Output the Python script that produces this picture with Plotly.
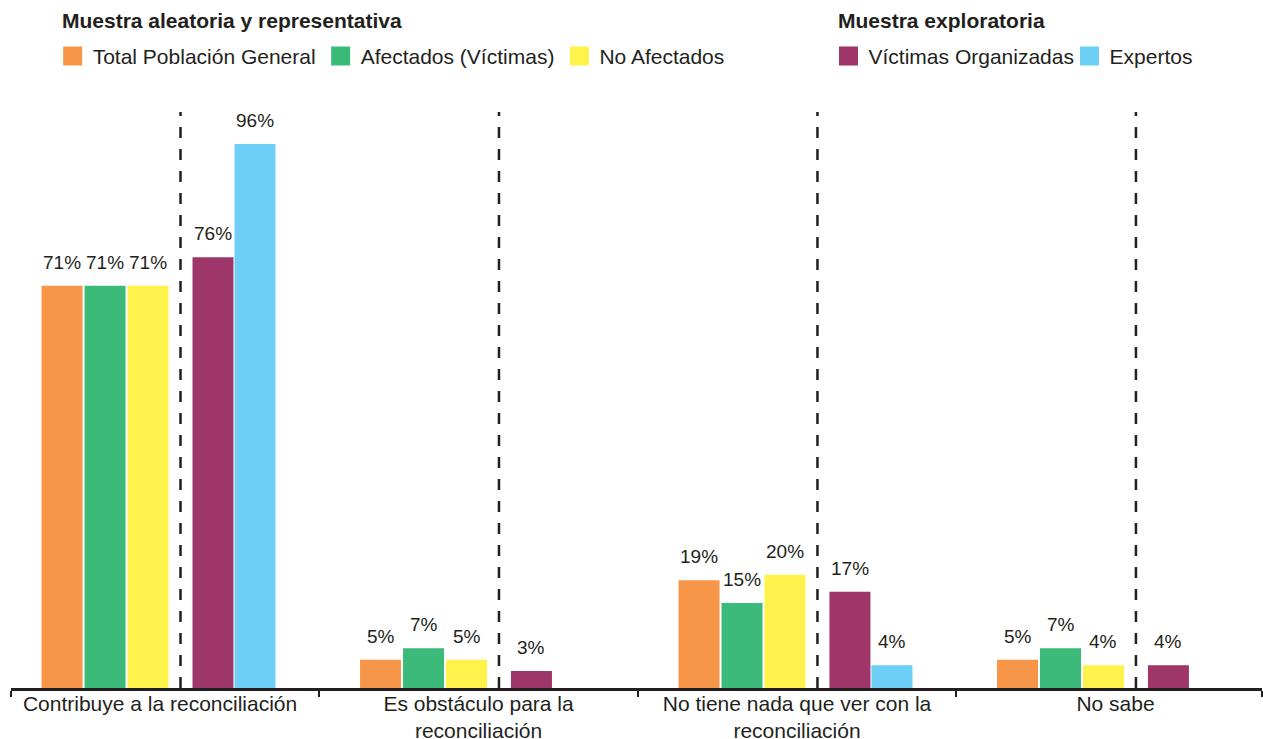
import plotly.graph_objects as go

# ---------------- data ----------------
categories = [
    "Contribuye a la reconciliación",
    "Es obstáculo para la<br>reconciliación",
    "No tiene nada que ver con la<br>reconciliación",
    "No sabe",
]
series_names = [
    "Total Población General",
    "Afectados (Víctimas)",
    "No Afectados",
    "Víctimas Organizadas",
    "Expertos",
]
total_poblacion = [71, 5, 19, 5]
afectados = [71, 7, 15, 7]
no_afectados = [71, 5, 20, 4]
victimas_organizadas = [76, 3, 17, 4]
expertos = [96, None, 4, None]

legend_title_1 = "Muestra aleatoria y representativa"
legend_title_2 = "Muestra exploratoria"

# ---------------- styling ----------------
colors = ["#F79549", "#3BBA7A", "#FFF24B", "#9E3669", "#6ECFF6"]
legend_of = ["legend", "legend", "legend", "legend2", "legend2"]
offsets = [-0.3077, -0.1727, -0.0377, 0.1662, 0.2981]   # bar position inside a category
divider_offset = 0.0642
bar_width = 0.1287
text_color = "#231F20"
FONT = "Liberation Sans, Arial, sans-serif"

values = [total_poblacion, afectados, no_afectados, victimas_organizadas, expertos]
cat_idx = list(range(len(categories)))
x_range = [-0.468, 3.46]

fig = go.Figure()

for name, vals, off, col, lg in zip(series_names, values, offsets, colors, legend_of):
    fig.add_trace(go.Bar(
        x=[i + off for i in cat_idx],
        y=vals,
        width=bar_width,
        marker=dict(color=col, line=dict(width=0)),
        name=name,
        showlegend=False,
        hoverinfo="skip",
    ))
    # legend entry (square swatch)
    fig.add_trace(go.Scatter(
        x=[None], y=[None], mode="markers", name=name,
        marker=dict(symbol="square", size=16, color=col, line=dict(color=col, width=3)),
        legend=lg, showlegend=True, hoverinfo="skip",
    ))
    # value labels
    for i, v in zip(cat_idx, vals):
        if v is None:
            continue
        fig.add_annotation(
            x=i + off, y=v, text=f"{v}%", showarrow=False,
            xanchor="center", yanchor="bottom", yshift=11,
            font=dict(family=FONT, size=19, color=text_color),
        )

# legend group headings
for txt, xp in [(legend_title_1, 0.0388), (legend_title_2, 0.6595)]:
    fig.add_annotation(
        xref="paper", yref="paper", x=xp, y=1.1597, xanchor="left", yanchor="middle",
        text=f"<b>{txt}</b>", showarrow=False,
        font=dict(family=FONT, size=21, color=text_color),
    )

# dashed dividers between the two sample groups
for i in cat_idx:
    fig.add_shape(
        type="line", xref="x", yref="paper",
        x0=i + divider_offset, x1=i + divider_offset, y0=0, y1=1,
        line=dict(color=text_color, width=2.5, dash="11px,11px"),
    )

legend_common = dict(
    orientation="h", xanchor="left", yanchor="top",
    font=dict(family=FONT, size=21, color=text_color),
    itemclick=False, itemdoubleclick=False, bgcolor="rgba(0,0,0,0)",
)

fig.update_layout(
    width=1263, height=739,
    margin=dict(l=11, r=1, t=112, b=51, autoexpand=False),
    paper_bgcolor="white", plot_bgcolor="white",
    barmode="overlay",
    hovermode=False,
    font=dict(family=FONT, color=text_color),
    legend=dict(x=0.0333, y=1.132, **legend_common),
    legend2=dict(x=0.6535, y=1.132, entrywidth=196, entrywidthmode="pixels", **legend_common),
    xaxis=dict(
        range=x_range, tickmode="array", tickvals=cat_idx, ticktext=categories,
        ticks="", showgrid=False, zeroline=False, ticklabelstandoff=-5,
        showline=True, linecolor=text_color, linewidth=2.5,
        tickfont=dict(family=FONT, size=21, color=text_color),
        minor=dict(tickmode="array",
                   tickvals=[x_range[0]] + [i + 0.5 for i in cat_idx[:-1]] + [x_range[1]],
                   ticks="outside", ticklen=6, tickwidth=2, tickcolor=text_color,
                   showgrid=False),
    ),
    yaxis=dict(range=[0, 101.65], visible=False, showgrid=False, zeroline=False),
)

fig.write_html(
    "out.html",
    config={"displayModeBar": False, "staticPlot": True},
    post_script="document.body.style.margin='0';document.body.style.overflow='hidden';",
)
